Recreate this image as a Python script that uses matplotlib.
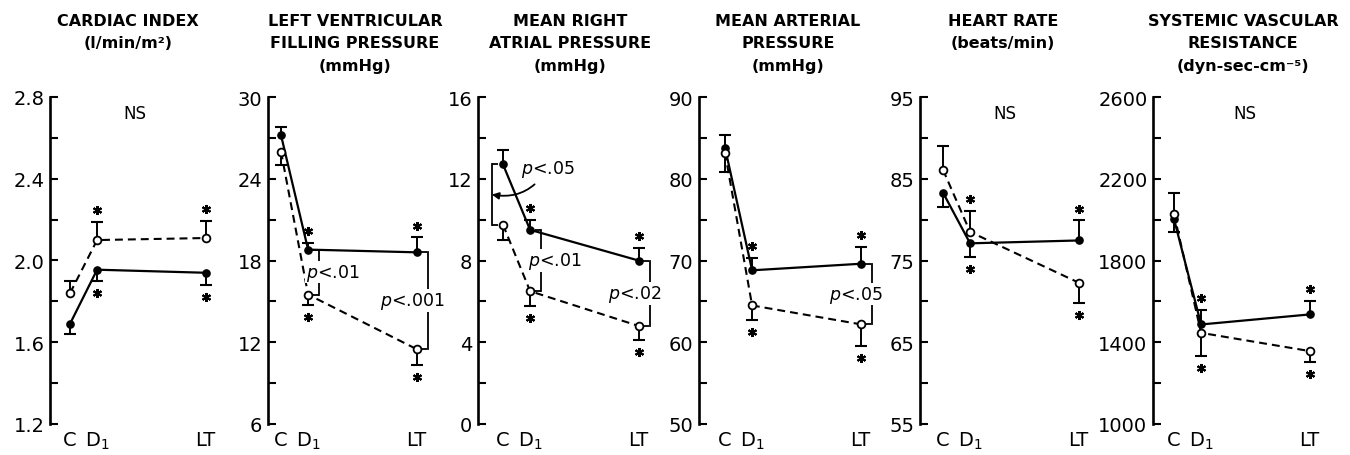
import numpy as np
import matplotlib
matplotlib.use("Agg")
import matplotlib.pyplot as plt
from matplotlib.transforms import ScaledTranslation, blended_transform_factory
from matplotlib.ticker import FixedLocator, FormatStrFormatter

# ---------------- data ----------------
conditions = ["C", "D$_1$", "LT"]
x_pos = [0, 1, 5]
significant = [False, True, True]   # asterisk vs control

titles = [
    "CARDIAC INDEX\n(l/min/m²)",
    "LEFT VENTRICULAR\nFILLING PRESSURE\n(mmHg)",
    "MEAN RIGHT\nATRIAL PRESSURE\n(mmHg)",
    "MEAN ARTERIAL\nPRESSURE\n(mmHg)",
    "HEART RATE\n(beats/min)",
    "SYSTEMIC VASCULAR\nRESISTANCE\n(dyn-sec-cm⁻⁵)",
]
y_limits = [(1.2, 2.8), (6, 30), (0, 16), (50, 90), (55, 95), (1000, 2600)]
y_steps = [0.4, 6, 4, 10, 10, 400]
y_formats = ["%.1f", "%d", "%d", "%d", "%d", "%d"]

# Cardiac index
ci_filled = [1.69, 1.955, 1.94]
ci_filled_lo = [0.05, 0.055, 0.06]
ci_filled_hi = [0, 0, 0]
ci_open = [1.84, 2.10, 2.11]
ci_open_lo = [0, 0, 0]
ci_open_hi = [0.06, 0.09, 0.085]

# Left ventricular filling pressure
lv_filled = [27.2, 18.8, 18.6]
lv_filled_lo = [0, 0, 0]
lv_filled_hi = [0.6, 0.5, 1.1]
lv_open = [26.0, 15.5, 11.5]
lv_open_lo = [1.0, 0.8, 1.2]
lv_open_hi = [0, 0, 0]

# Mean right atrial pressure
ra_filled = [12.7, 9.5, 8.0]
ra_filled_lo = [0, 0, 0]
ra_filled_hi = [0.7, 0.5, 0.6]
ra_open = [9.75, 6.5, 4.8]
ra_open_lo = [0.75, 0.75, 0.7]
ra_open_hi = [0, 0, 0]

# Mean arterial pressure
ma_filled = [83.8, 68.8, 69.6]
ma_filled_lo = [0, 0, 0]
ma_filled_hi = [1.6, 1.5, 2.1]
ma_open = [83.2, 64.5, 62.2]
ma_open_lo = [2.4, 1.75, 2.7]
ma_open_hi = [0, 0, 0]

# Heart rate
hr_filled = [83.3, 77.1, 77.45]
hr_filled_lo = [1.7, 1.7, 0]
hr_filled_hi = [0, 0, 2.45]
hr_open = [86.1, 78.5, 72.3]
hr_open_lo = [0, 0, 2.5]
hr_open_hi = [2.9, 2.6, 0]

# Systemic vascular resistance
sv_filled = [2003, 1487, 1536]
sv_filled_lo = [65, 0, 0]
sv_filled_hi = [0, 73, 65]
sv_open = [2028, 1446, 1357]
sv_open_lo = [0, 115, 54]
sv_open_hi = [103, 0, 0]

# p-value comparisons between groups (condition index, label)
ci_pvals = []
lv_pvals = [(1, "$p$<.01"), (2, "$p$<.001")]
ra_pvals = [(0, "$p$<.05"), (1, "$p$<.01"), (2, "$p$<.02")]
ma_pvals = [(2, "$p$<.05")]
hr_pvals = []
sv_pvals = []
ns_flags = [True, False, False, False, True, True]

panels = [
    (ci_filled, ci_filled_lo, ci_filled_hi, ci_open, ci_open_lo, ci_open_hi, ci_pvals),
    (lv_filled, lv_filled_lo, lv_filled_hi, lv_open, lv_open_lo, lv_open_hi, lv_pvals),
    (ra_filled, ra_filled_lo, ra_filled_hi, ra_open, ra_open_lo, ra_open_hi, ra_pvals),
    (ma_filled, ma_filled_lo, ma_filled_hi, ma_open, ma_open_lo, ma_open_hi, ma_pvals),
    (hr_filled, hr_filled_lo, hr_filled_hi, hr_open, hr_open_lo, hr_open_hi, hr_pvals),
    (sv_filled, sv_filled_lo, sv_filled_hi, sv_open, sv_open_lo, sv_open_hi, sv_pvals),
]

# ---------------- layout ----------------
W, H = 1350, 456
plt.rcParams["font.family"] = ["DejaVu Sans"]
plt.rcParams["mathtext.fontset"] = "dejavusans"
fig = plt.figure(figsize=(W / 100, H / 100), dpi=100)

spine_px = [50, 268, 478, 699, 920, 1153]
first_px = [70, 281, 503, 725, 943, 1174]
title_cx = [128, 355, 570, 788, 1003, 1243]
px_per_unit = 27.1
x_right = 5.8
ax_bottom_px, ax_top_px = 425, 98
ns_x = [2.4, 2.4, 2.4, 2.4, 2.3, 2.6]


def off(ax, dx, dy):
    return ax.transData + ScaledTranslation(dx / 72, dy / 72, fig.dpi_scale_trans)


for k, (f, flo, fhi, o, olo, ohi, pvals) in enumerate(panels):
    x_left = -(first_px[k] - spine_px[k]) / px_per_unit
    width_px = (x_right - x_left) * px_per_unit
    ax = fig.add_axes([spine_px[k] / W, 1 - ax_bottom_px / H,
                       width_px / W, (ax_bottom_px - ax_top_px) / H])
    ax.set_xlim(x_left, x_right)
    y0, y1 = y_limits[k]
    ax.set_ylim(y0, y1)
    for s in ("top", "right", "bottom"):
        ax.spines[s].set_visible(False)
    ax.spines["left"].set_linewidth(1.9)
    step = y_steps[k]
    major = np.arange(y0, y1 + step / 4, step)
    minor = np.arange(y0 + step / 2, y1, step)
    ax.yaxis.set_major_locator(FixedLocator(major))
    ax.yaxis.set_minor_locator(FixedLocator(minor))
    ax.yaxis.set_major_formatter(FormatStrFormatter(y_formats[k]))
    ax.tick_params(axis="y", which="both", direction="in", length=6,
                   width=1.5, labelsize=14, pad=4)
    ax.set_xticks(x_pos)
    ax.set_xticklabels(conditions)
    ax.tick_params(axis="x", length=0, labelsize=14, pad=4)

    # lines
    ax.plot(x_pos, f, color="black", lw=1.6, zorder=3)
    ax.plot(x_pos, o, color="black", lw=1.5, dashes=(3.8, 2.4), zorder=3)

    # error bars + asterisks
    for vals, lo, hi in ((f, flo, fhi), (o, olo, ohi)):
        for i in range(3):
            if hi[i] > 0:
                end, sgn = vals[i] + hi[i], 1
            elif lo[i] > 0:
                end, sgn = vals[i] - lo[i], -1
            else:
                continue
            ax.plot([x_pos[i], x_pos[i]], [vals[i], end], color="black",
                    lw=1.4, zorder=2)
            ax.plot([x_pos[i]], [end], marker="_", ms=8, mew=1.5,
                    color="black", zorder=2)
            if significant[i]:
                ax.plot([x_pos[i]], [end], marker=(6, 2, 0), ms=6.5, mew=1.5,
                        color="black", transform=off(ax, 0, sgn * 8.5),
                        zorder=2)

    # markers
    ax.plot(x_pos, f, ls="none", marker="o", ms=5.2, mfc="black",
            mec="black", zorder=5)
    ax.plot(x_pos, o, ls="none", marker="o", ms=5.6, mfc="white",
            mec="black", mew=1.3, zorder=5)

    # p-value brackets
    for i, label in pvals:
        side = -1 if i == 0 else 1
        xs = [x_pos[i], x_pos[i]]
        ys = [f[i], o[i]]
        ax.plot(xs, ys, color="black", lw=1.3, transform=off(ax, side * 8, 0),
                zorder=4)
        ax.plot(xs, ys, ls="none", marker="_", ms=5, mew=1.3, color="black",
                transform=off(ax, side * 5.5, 0), zorder=4)
        mid = (f[i] + o[i]) / 2
        if i == 0:
            ax.annotate(label, xy=(x_pos[i], mid), xycoords=off(ax, -8, 0),
                        xytext=(40, 19), textcoords="offset points",
                        ha="center", va="center", fontsize=12.5,
                        arrowprops=dict(arrowstyle="-|>", color="black",
                                        lw=1.3, shrinkA=3, shrinkB=0,
                                        mutation_scale=10,
                                        connectionstyle="arc3,rad=-0.35"))
        else:
            dx = 10 if i == 1 else -11
            ax.text(x_pos[i], mid, label, transform=off(ax, 8 + dx, 0),
                    ha="center", va="center", fontsize=12.5, zorder=6,
                    bbox=dict(boxstyle="square,pad=0.05", fc="white",
                              ec="none"))

    if ns_flags[k]:
        ax.text(ns_x[k], 0.95, "NS", fontsize=12,
                transform=blended_transform_factory(ax.transData, ax.transAxes),
                ha="center", va="center")

    fig.text(title_cx[k] / W, 1 - 14 / H, titles[k], ha="center", va="top",
             fontsize=11.5, fontweight="bold", linespacing=1.62)

fig.savefig("out.png", dpi=100)
